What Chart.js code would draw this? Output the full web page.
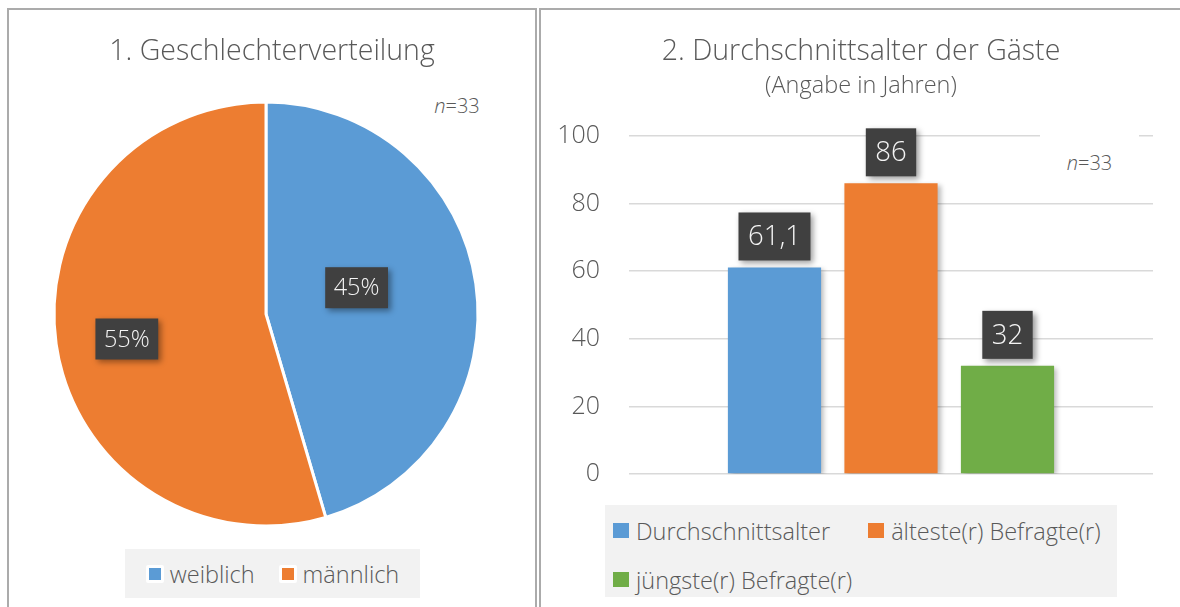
<!DOCTYPE html>
<html><head><meta charset="utf-8">
<script src="https://cdn.jsdelivr.net/npm/chart.js@4.4.1/dist/chart.umd.min.js"></script>
<style>
html,body{margin:0;padding:0}
body{width:1180px;height:607px;overflow:hidden;background:#fff;position:relative;font-family:'Open Sans','Noto Sans',sans-serif;font-weight:300;color:#595959}
.panel{position:absolute;border:2px solid #ababab;border-bottom:none;box-sizing:border-box}
#pL{left:7px;top:8px;width:530px;height:640px}
#pR{left:539px;top:8px;width:680px;height:640px}
canvas{position:absolute}
#cPie{left:0;top:0}
#cBar{left:540px;top:0}
.title{position:absolute;text-align:center;white-space:nowrap;line-height:1}
#tL{left:9px;width:526px;top:35px;font-size:28.5px}
#tR{left:541px;width:640px;top:35px;font-size:28.5px}
#sR{left:541px;width:640px;top:73px;font-size:23.5px}
.nlab{position:absolute;font-size:20px;white-space:nowrap;background:#fff;text-align:center}
#nL{left:430px;top:92px;width:54px;height:28px;line-height:28px}
#nR{left:1040px;top:135px;width:99px;height:55px;line-height:56px}
.legend{position:absolute;background:#f2f2f2;box-sizing:border-box;font-size:23.5px;display:flex;flex-wrap:wrap;align-content:flex-start}
.legend .li{display:flex;align-items:center;white-space:nowrap}
#lL{left:125px;top:549px;width:295px;height:49px;justify-content:center;align-items:center;gap:0 24px}
#lL .li{height:49px}
#lL .box{width:12px;height:12px;border:3px solid #fff;border-radius:2px;margin-right:6px}
#lR{left:605px;top:505px;width:512px;height:92px;padding:1px 0 0 8px;gap:0 38px}
#lR .li{height:49px}
#lR .box{width:16px;height:15px;margin-right:7px}
</style>
</head>
<body>
<div class="panel" id="pL"></div>
<div class="panel" id="pR"></div>
<canvas id="cPie" width="540" height="607"></canvas>
<canvas id="cBar" width="640" height="607"></canvas>
<div class="title" id="tL">1. Geschlechterverteilung</div>
<div class="title" id="tR">2. Durchschnittsalter der Gäste</div>
<div class="title" id="sR">(Angabe in Jahren)</div>
<div class="nlab" id="nL"><i>n</i>=33</div>
<div class="nlab" id="nR"><i>n</i>=33</div>
<div class="legend" id="lL"></div>
<div class="legend" id="lR"></div>
<script>
// ---- data ----
const genderLabels = ['weiblich', 'männlich'];
const genderCounts = [15, 18];           // n = 33
const genderColors = ['#5b9bd5', '#ed7d31'];

const ageCategories = [''];
const ageSeriesNames = ['Durchschnittsalter', 'älteste(r) Befragte(r)', 'jüngste(r) Befragte(r)'];
const ageValues = [61.1, 86, 32];
const ageColors = ['#5b9bd5', '#ed7d31', '#70ad47'];
const yTicks = [0, 20, 40, 60, 80, 100];

const FONT = "'Open Sans','Noto Sans',sans-serif";

// HTML legend generated from chart's own legend items
const htmlLegend = {
  id: 'htmlLegend',
  afterUpdate(chart, args, opts) {
    const el = document.getElementById(opts.containerID);
    el.innerHTML = '';
    chart.options.plugins.legend.labels.generateLabels(chart).forEach(it => {
      const li = document.createElement('div'); li.className = 'li';
      const box = document.createElement('span'); box.className = 'box'; box.style.background = it.fillStyle;
      const t = document.createElement('span'); t.textContent = it.text;
      li.append(box, t); el.append(li);
    });
  }
};

function drawTag(ctx, text, cx, cy, font, padX, h) {
  ctx.save();
  ctx.font = font;
  const w = ctx.measureText(text).width + padX * 2;
  ctx.shadowColor = 'rgba(0,0,0,0.4)';
  ctx.shadowBlur = 6; ctx.shadowOffsetX = 3; ctx.shadowOffsetY = 3;
  ctx.fillStyle = '#404040';
  ctx.fillRect(cx - w / 2, cy - h / 2, w, h);
  ctx.shadowColor = 'transparent';
  ctx.fillStyle = '#f4f4f4';
  ctx.textAlign = 'center'; ctx.textBaseline = 'middle';
  ctx.fillText(text, cx, cy + 1);
  ctx.restore();
}

const pieLabels = {
  id: 'pieLabels',
  afterDatasetsDraw(chart, args, opts) {
    const ctx = chart.ctx;
    const total = chart.data.datasets[0].data.reduce((a, b) => a + b, 0);
    chart.getDatasetMeta(0).data.forEach((arc, i) => {
      const p = arc.getProps(['x', 'y', 'startAngle', 'endAngle', 'outerRadius'], true);
      const a = (p.startAngle + p.endAngle) / 2 + opts.angleShift[i] * Math.PI / 180;
      const r = p.outerRadius * opts.frac[i];
      const txt = Math.round(chart.data.datasets[0].data[i] / total * 100) + '%';
      drawTag(ctx, txt, p.x + Math.cos(a) * r, p.y + Math.sin(a) * r, '300 23.5px ' + FONT, 8.5, 41);
    });
  }
};

new Chart(document.getElementById('cPie'), {
  type: 'pie',
  data: {
    labels: genderLabels,
    datasets: [{ data: genderCounts, backgroundColor: genderColors, borderColor: '#fff', borderWidth: 3 }]
  },
  options: {
    responsive: false, animation: false,
    radius: 212,
    layout: { padding: { left: 55, right: 63, top: 103, bottom: 82 } },
    plugins: {
      legend: { display: false }, tooltip: { enabled: false },
      htmlLegend: { containerID: 'lL' },
      pieLabels: { frac: [0.445, 0.667], angleShift: [-8, -2] }
    }
  },
  plugins: [htmlLegend, pieLabels]
});

const barShadow = {
  id: 'barShadow',
  beforeDatasetsDraw(chart) {
    const c = chart.ctx; c.save();
    c.shadowColor = 'rgba(0,0,0,0.28)'; c.shadowBlur = 5; c.shadowOffsetX = 3; c.shadowOffsetY = 2;
  },
  afterDatasetsDraw(chart) { chart.ctx.restore(); }
};

const barLabels = {
  id: 'barLabels',
  afterDatasetsDraw(chart) {
    const ctx = chart.ctx;
    chart.data.datasets.forEach((ds, di) => {
      chart.getDatasetMeta(di).data.forEach((bar, i) => {
        const txt = ds.data[i].toLocaleString('de-DE');
        drawTag(ctx, txt, bar.x, bar.y - 7 - 24, '300 27.5px ' + FONT, 9.5, 48);
      });
    });
  }
};

new Chart(document.getElementById('cBar'), {
  type: 'bar',
  data: {
    labels: ageCategories,
    datasets: ageSeriesNames.map((n, i) => ({
      label: n, data: [ageValues[i]], backgroundColor: ageColors[i],
      categoryPercentage: 0.667, barPercentage: 0.8
    }))
  },
  options: {
    responsive: false, animation: false,
    layout: { padding: { left: 0, right: 27, top: 136, bottom: 133 } },
    scales: {
      x: { display: false },
      y: {
        min: 0, max: 100,
        afterFit(s) { s.width = 89; },
        afterBuildTicks(s) { s.ticks = yTicks.map(v => ({ value: v })); },
        border: { display: false },
        grid: { color: '#d9d9d9', lineWidth: 1.5, drawTicks: false },
        ticks: { padding: 29, color: '#595959', font: { family: FONT, size: 25, weight: '300' } }
      }
    },
    plugins: {
      legend: { display: false }, tooltip: { enabled: false },
      htmlLegend: { containerID: 'lR' }
    }
  },
  plugins: [htmlLegend, barShadow, barLabels]
});
</script>
</body></html>
